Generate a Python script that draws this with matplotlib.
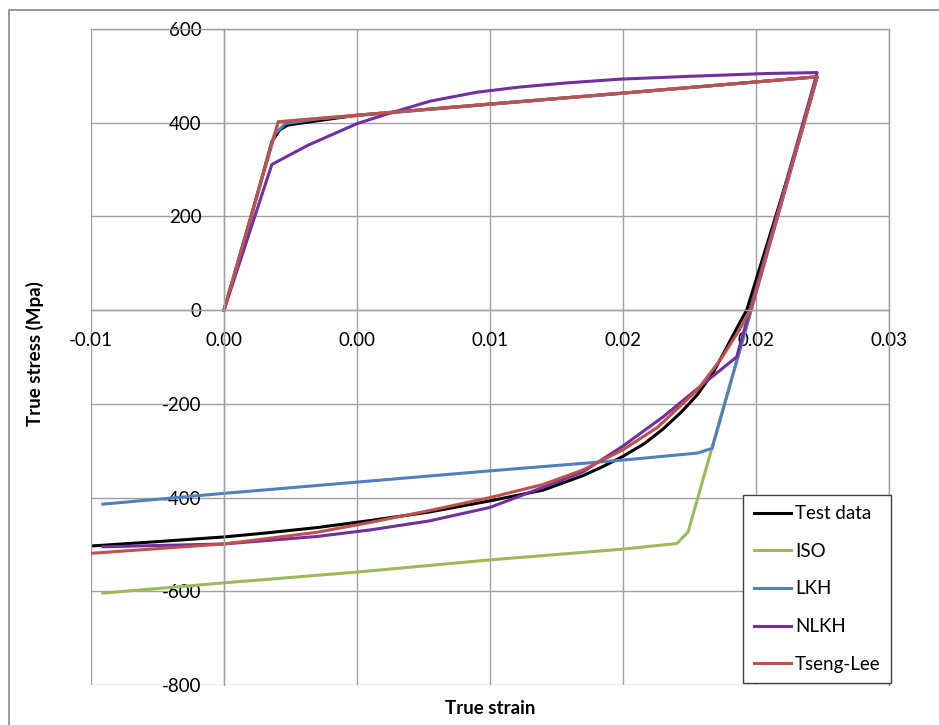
import matplotlib.pyplot as plt
from matplotlib.lines import Line2D

plt.rcParams['font.family'] = ['Lato', 'DejaVu Sans']

# values (true strain, true stress in MPa)
test_strain = [0.0, 0.0010, 0.0018, 0.0021, 0.0024, 0.0030, 0.0050, 0.0100, 0.0150, 0.0200, 0.0223,
               0.0215, 0.02074, 0.0200, 0.01965, 0.0193, 0.0188, 0.0184, 0.0178, 0.0172, 0.0165, 0.0158,
               0.0150, 0.0142, 0.0135, 0.0120, 0.0100, 0.0077, 0.0055, 0.0035, 0.0015, 0.0, -0.0025, -0.0049]
test_stress = [0, 195, 360, 385, 395, 400, 416, 440, 463, 487, 498,
               340, 200, 64, 0, -36, -90, -132, -180, -217, -254, -285,
               -312, -335, -353, -384, -407, -431, -449, -464, -476, -484, -494, -503]

iso_strain = [0.0, 0.00204, 0.0223, 0.01745, 0.01703, 0.0150, 0.0100, 0.0050, 0.0, -0.00455]
iso_stress = [0, 402, 498, -473, -498, -510, -533, -559, -582, -604]

lkh_strain = [0.0, 0.0019, 0.0023, 0.0035, 0.0223, 0.01835, 0.0178, 0.0150, 0.0100, 0.0050, 0.0, -0.00455]
lkh_stress = [0, 375, 398, 408, 498, -295, -305, -320, -343, -367, -391, -414]

nlkh_strain = [0.0, 0.0018, 0.00316, 0.0050, 0.0061, 0.00775, 0.0095, 0.0111, 0.0129, 0.0149, 0.0175,
               0.0204, 0.0223, 0.01927, 0.0182, 0.0165, 0.0150, 0.0135, 0.0120, 0.0100, 0.0077,
               0.0055, 0.0035, 0.0, -0.00455]
nlkh_stress = [0, 311, 352, 398, 418, 446, 465, 476, 485, 493, 499,
               505, 507, -100, -149, -228, -290, -345, -378, -421, -450,
               -469, -483, -499, -505]

tl_strain = [0.0, 0.00204, 0.0223, 0.0198, 0.0193, 0.01865, 0.0178, 0.0163, 0.0150, 0.0135,
             0.0120, 0.0100, 0.0077, 0.0055, 0.0035, 0.0, -0.0050]
tl_stress = [0, 402, 498, 0, -49, -107, -170, -250, -298, -341,
             -372, -400, -428, -453, -474, -499, -519]

series = [
    ("Test data", test_strain, test_stress, "#000000"),
    ("ISO", iso_strain, iso_stress, "#9BBB59"),
    ("LKH", lkh_strain, lkh_stress, "#4F81BD"),
    ("NLKH", nlkh_strain, nlkh_stress, "#7030A0"),
    ("Tseng-Lee", tl_strain, tl_stress, "#C0504D"),
]

x_ticks = [-0.005, 0.0, 0.005, 0.01, 0.015, 0.02, 0.025]
x_labels = ["-0.01", "0.00", "0.00", "0.01", "0.02", "0.02", "0.03"]
y_ticks = [-800, -600, -400, -200, 0, 200, 400, 600]
y_labels = ["-800", "-600", "-400", "-200", "0", "200", "400", "600"]

W, H = 939, 725
fig = plt.figure(figsize=(W / 100, H / 100), dpi=100)
ax = fig.add_axes([91 / W, 40 / H, 798 / W, 656 / H])

grid_c = "#A0A0A0"
for name, xs, ys, col in series:
    ax.plot(xs, ys, color=col, lw=2.2, label=name, solid_joinstyle='round')

ax.set_xlim(-0.005, 0.025)
ax.set_ylim(-800, 600)
ax.set_xticks(x_ticks)
ax.set_xticklabels(x_labels)
ax.set_yticks(y_ticks)
ax.set_yticklabels(y_labels)
ax.grid(True, color=grid_c, lw=1)
ax.set_axisbelow(True)
ax.tick_params(length=0, pad=16, labelsize=13.5, colors="black")

ax.spines['left'].set_position(('data', 0))
ax.spines['bottom'].set_position(('data', 0))
for s in ax.spines.values():
    s.set_color(grid_c)
    s.set_linewidth(1)

leg = ax.legend(loc="lower right", bbox_to_anchor=(1.0025, 0.003), borderaxespad=0,
                frameon=True, fancybox=False, framealpha=1, edgecolor="#404040",
                fontsize=13.5, handlelength=2.0, handletextpad=0.2, labelspacing=1.1,
                borderpad=0.55)
leg.get_frame().set_linewidth(1)

fig.text(35 / W, 1 - 354 / H, "True stress (Mpa)", rotation=90, ha="center", va="center",
         fontsize=13.5, fontweight="bold")
fig.text(490 / W, 1 - 708 / H, "True strain", ha="center", va="center",
         fontsize=13.5, fontweight="bold")

# outer chart frame (only top and left edges are in view)
fig.add_artist(Line2D([9 / W, 9 / W, 1], [0, 1 - 10 / H, 1 - 10 / H], color="#888888", lw=1.2))

fig.savefig("out.png", dpi=100)
